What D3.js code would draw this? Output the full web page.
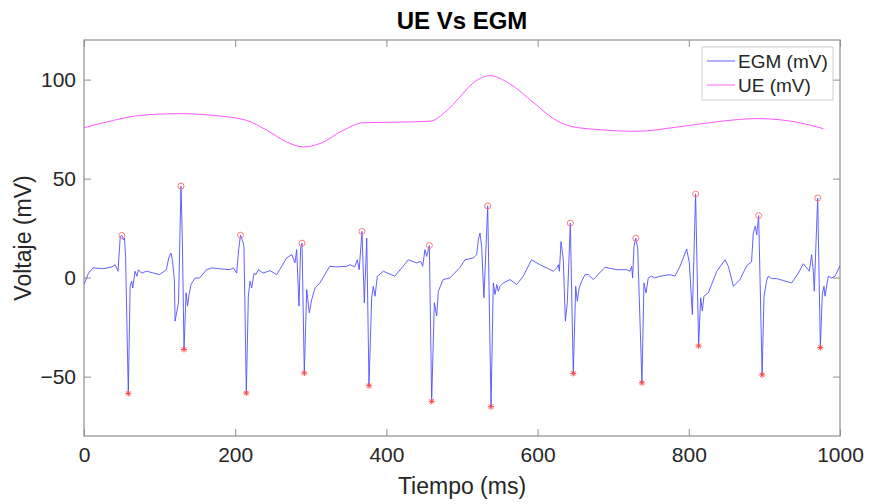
<!DOCTYPE html>
<html>
<head>
<meta charset="utf-8">
<script src="https://cdn.jsdelivr.net/npm/d3@7"></script>
<style>
  html, body { margin: 0; padding: 0; background: #fff; }
  svg { display: block; font-family: "Liberation Sans", Arial, Helvetica, sans-serif; }
</style>
</head>
<body>
<svg id="chart" width="869" height="504"></svg>
<script>
// EGM trace (ms, mV)
var egmTime = [0, 6, 12, 26, 37, 41, 43, 45, 48, 50, 52, 53.5, 55, 58.6, 61, 63, 64.5, 67.5, 70, 72, 76, 83, 92, 100,
  109, 112, 115, 117, 119.5, 120.5, 122.5, 125, 128.3, 130, 132.3, 135, 137, 139, 141.5, 147, 153, 162, 169, 180, 193,
  197.5, 202, 204.6, 207, 210, 211.6, 214.7, 217.4, 219.6, 221.8, 225, 227.5, 230.6, 237, 246, 255, 268, 275, 279,
  281.3, 284.4, 286.5, 288.4, 291.4, 294.6, 298, 301.2, 305.6, 312, 325, 334, 347.5, 352, 358, 361.5, 364, 367.7,
  370.8, 374, 377, 380.5, 382.7, 385, 388, 396, 411, 422, 429, 440, 445.4, 448, 451, 453.3, 456.8, 459.9, 463.4,
  466.5, 468.7, 475, 484, 497, 504, 515, 519.4, 521.6, 523.8, 526, 529, 534, 538.4, 541.4, 543.7, 546, 548, 550.3,
  554.6, 563.5, 572.4, 581, 592, 603, 612, 620.8, 625.3, 627.5, 628.8, 631, 634, 636.7, 639.3, 643.3, 647.2, 650.4,
  652.5, 655, 658.3, 662.7, 667, 673.7, 689, 704.6, 717.8, 722.2, 724.4, 725.7, 727.5, 729.8, 732.4, 738, 740.7,
  743.4, 746.4, 750.8, 755, 762, 775, 781.7, 788.4, 797.2, 800.7, 804.7, 809, 813, 815.7, 817.9, 820, 825.8, 837,
  848, 852.3, 859, 867.7, 876.6, 881, 883, 885.3, 888, 889.8, 892.4, 897, 899.5, 903, 905.2, 909.6, 916, 925, 936,
  945, 951.5, 956, 959.4, 962.5, 964.7, 966, 968.3, 970.5, 974, 976.6, 978.8, 980.2, 984.5, 989, 993.4, 1000];
var egmVolt = [-3.5, 2.3, 4.9, 4.5, 5.4, 6.5, 4.9, 3.2, 20.8, 21.3, 19.1, 20, 10.7, -58.5, -4.4, -1.8, -5.2, 3.2, 0.7, 4.0, 2.3, 3.2, 2.3, 1.5,
  4.0, 9.9, 12.4, 8.7, -1.0, -22.0, -17.8, -12.7, 46.2, 20.8, -36.3, -7.7, -14.4, -8.5, -3.5, -0.2, -0.2, 4, 4.9, 4.4, 4.0,
  4.9, 2.3, 14.1, 21.4, 18.2, 15.7, -58.3, -9.4, -1.8, -5.2, 2.3, 1.5, 4, 2.3, 3.5, 1.5, 9.9, 11.6, 7.4,
  14.1, -14.4, 15, 17.4, -48.2, -6.0, -17.8, -11.1, -5.2, -2.7, 5.7, 5.4, 5.7, 6.5, 5.4, 9, 4, 23.3,
  -12.7, 19.9, -54.6, -10.2, -4.4, -9.4, 0.7, 3.2, 0.7, 5.7, 9, 7.4, 8.2, 5.7, 14.1, 10.7, 16.2, -62.5, -12.7,
  -19.4, -6.9, -1.0, -0.2, 5.0, 9, 9.9, 11.6, 19.1, 22.5, 15.7, -10.2, 36.2, -65.2, -2.7, -8.5, -3.5, -6.9, -4.4,
  -2.7, -1, -3.5, 0.7, 9, 6.5, 4.9, 3.2, 4.9, 6.5, 3.2, 18.2, 9, -22, -12.7, 27.5, -48.4, -4.4,
  -11.9, -5.2, -1.8, 1.5, 1.5, -1, 5.2, 4, 4, 3.2, 5.7, -0.2, 15.7, 19.9, 14.9, -53.1, -2.7,
  -7.7, -0.2, 0.7, -0.2, 0.7, 1.5, 0.7, 5.7, 14.5, 7.4, -18.6, 42.2, -34.5, -10.2, -16.9, -9.4, -7.7, 3.2,
  9, 5.7, -4.4, -1, 6, 7.4, 8, 22.5, 26, 21.6, 31.3, -49.1, -9.4, -1.5, 0.7, -0.5, -0.5, -1.5, -2.7,
  2.3, 7, 4.9, 3.2, 11.6, 3.2, -6.9, 18, 40.2, -35.3, -8.5, -4.4, -9.4, 0.7, -0.2, 0.7, 6];

// UE trace (ms, mV)
var ueTime = [0, 39, 74, 127, 171, 215, 242, 268, 290, 312, 343, 369.5, 413.6, 457.7, 480, 497, 511, 537, 563.5,
  594, 621, 643, 682.5, 731, 784, 841, 890, 920.6, 956, 978];
var ueVolt = [75.7, 79.4, 81.9, 82.8, 81.9, 79.4, 74.4, 68.5, 66.0, 67.7, 74.4, 78.2, 78.5, 79.0, 84.4, 91.1, 97.0,
  102.0, 97.8, 88.6, 80.3, 76.5, 74.7, 73.9, 76.0, 78.9, 80.3, 79.7, 77.4, 75.2];

// detected maxima (o) and minima (*)
var peakTime = [50, 128.3, 207, 288.4, 367.7, 456.8, 534, 643.3, 729.8, 809, 892.4, 970.5];
var peakVolt = [21.3, 46.2, 21.4, 17.4, 23.3, 16.2, 36.2, 27.5, 19.9, 42.2, 31.3, 40.2];
var minTime = [58.6, 132.3, 214.7, 291.4, 377, 459.9, 538.4, 647.2, 738, 813, 897, 974];
var minVolt = [-58.5, -36.3, -58.3, -48.2, -54.6, -62.5, -65.2, -48.4, -53.1, -34.5, -49.1, -35.3];

var xTicks = [0, 200, 400, 600, 800, 1000];
var yTicks = [-50, 0, 50, 100];
var legendNames = ['EGM (mV)', 'UE (mV)'];

var axLeft = 84, axRight = 840, axTop = 40, axBottom = 436;
var svg = d3.select('#chart');

var x = d3.scaleLinear().domain([0, 1000]).range([axLeft, axRight]);
var y = d3.scaleLinear().domain([-80, 120]).range([axBottom, axTop]);

var axisColor = '#8f8f8f';
var labelColor = '#262626';
var egmColor = '#5050ff';
var ueColor = '#ff55ff';

// box
svg.append('rect')
  .attr('x', axLeft).attr('y', axTop)
  .attr('width', axRight - axLeft).attr('height', axBottom - axTop)
  .attr('fill', 'none').attr('stroke', axisColor).attr('stroke-width', 1.2);

// axes, ticks pointing inward
function styleAxis(g) {
  g.select('.domain').remove();
  g.selectAll('.tick line').attr('stroke', axisColor).attr('stroke-width', 1);
  g.selectAll('.tick text').attr('fill', labelColor).style('font-size', '21px');
}

svg.append('g').attr('transform', 'translate(0,' + axBottom + ')')
  .call(d3.axisBottom(x).tickValues(xTicks).tickSize(-7).tickPadding(11).tickFormat(d3.format('d')))
  .call(styleAxis);
svg.append('g').attr('transform', 'translate(0,' + axTop + ')')
  .call(d3.axisTop(x).tickValues(xTicks).tickSize(-7).tickFormat(''))
  .call(styleAxis);
svg.append('g').attr('transform', 'translate(' + axLeft + ',0)')
  .call(d3.axisLeft(y).tickValues(yTicks).tickSize(-7).tickPadding(8).tickFormat(d3.format('d')))
  .call(styleAxis);
svg.append('g').attr('transform', 'translate(' + axRight + ',0)')
  .call(d3.axisRight(y).tickValues(yTicks).tickSize(-7).tickFormat(''))
  .call(styleAxis);

svg.selectAll('g').attr('font-family', null);

// clip
svg.append('clipPath').attr('id', 'clip')
  .append('rect').attr('x', axLeft).attr('y', axTop).attr('width', axRight - axLeft).attr('height', axBottom - axTop);

var plot = svg.append('g').attr('clip-path', 'url(#clip)');

var egm = egmTime.map(function(t, i){ return [t, egmVolt[i]] });
var ue = ueTime.map(function(t, i){ return [t, ueVolt[i]] });

var egmLine = d3.line().x(function(d){ return x(d[0]) }).y(function(d){ return y(d[1]) });
var ueLine = d3.line().curve(d3.curveMonotoneX).x(function(d){ return x(d[0]) }).y(function(d){ return y(d[1]) });

plot.append('path').datum(ue)
  .attr('d', ueLine).attr('fill', 'none')
  .attr('stroke', ueColor).attr('stroke-width', 1);

plot.append('path').datum(egm)
  .attr('d', egmLine).attr('fill', 'none')
  .attr('stroke', egmColor).attr('stroke-width', 0.9)
  .attr('stroke-linejoin', 'round');

// peak markers (open circles)
plot.selectAll('.peak').data(peakTime).enter().append('circle')
  .attr('class', 'peak')
  .attr('cx', function(d){ return x(d) })
  .attr('cy', function(d, i){ return y(peakVolt[i]) })
  .attr('r', 3)
  .attr('fill', 'none').attr('stroke', '#ff7a7a').attr('stroke-width', 1);

// minimum markers (asterisks)
var star = 'M-3,0L3,0M0,-3L0,3M-2.2,-2.2L2.2,2.2M-2.2,2.2L2.2,-2.2';
plot.selectAll('.minm').data(minTime).enter().append('path')
  .attr('class', 'minm')
  .attr('transform', function(d, i){ return 'translate(' + x(d) + ',' + y(minVolt[i]) + ')' })
  .attr('d', star)
  .attr('fill', 'none').attr('stroke', '#ff4a4a').attr('stroke-width', 1);

// title and labels
svg.append('text')
  .attr('x', (axLeft + axRight) / 2).attr('y', 29)
  .attr('text-anchor', 'middle')
  .attr('fill', '#000')
  .style('font-size', '24px').style('font-weight', 'bold')
  .text('UE Vs EGM');

svg.append('text')
  .attr('x', (axLeft + axRight) / 2).attr('y', 494)
  .attr('text-anchor', 'middle')
  .attr('fill', labelColor)
  .style('font-size', '23px')
  .text('Tiempo (ms)');

svg.append('text')
  .attr('transform', 'translate(31,' + (axTop + axBottom) / 2 + ') rotate(-90)')
  .attr('text-anchor', 'middle')
  .attr('fill', labelColor)
  .style('font-size', '23px')
  .text('Voltaje (mV)');

// legend
var legend = svg.append('g').attr('class', 'legend');
legend.append('rect')
  .attr('x', 702).attr('y', 47).attr('width', 131).attr('height', 53)
  .attr('fill', '#fff').attr('stroke', '#cfcfcf').attr('stroke-width', 1);

var legendColors = [egmColor, ueColor];
legendNames.forEach(function(name, i){
  var ly = 61 + i * 24;
  legend.append('line')
    .attr('x1', 707).attr('x2', 735).attr('y1', ly).attr('y2', ly)
    .attr('stroke', legendColors[i]).attr('stroke-width', 0.9);
  legend.append('text')
    .attr('x', 738).attr('y', ly + 7)
    .attr('fill', labelColor)
    .style('font-size', '19px')
    .text(name);
});
</script>
</body>
</html>
